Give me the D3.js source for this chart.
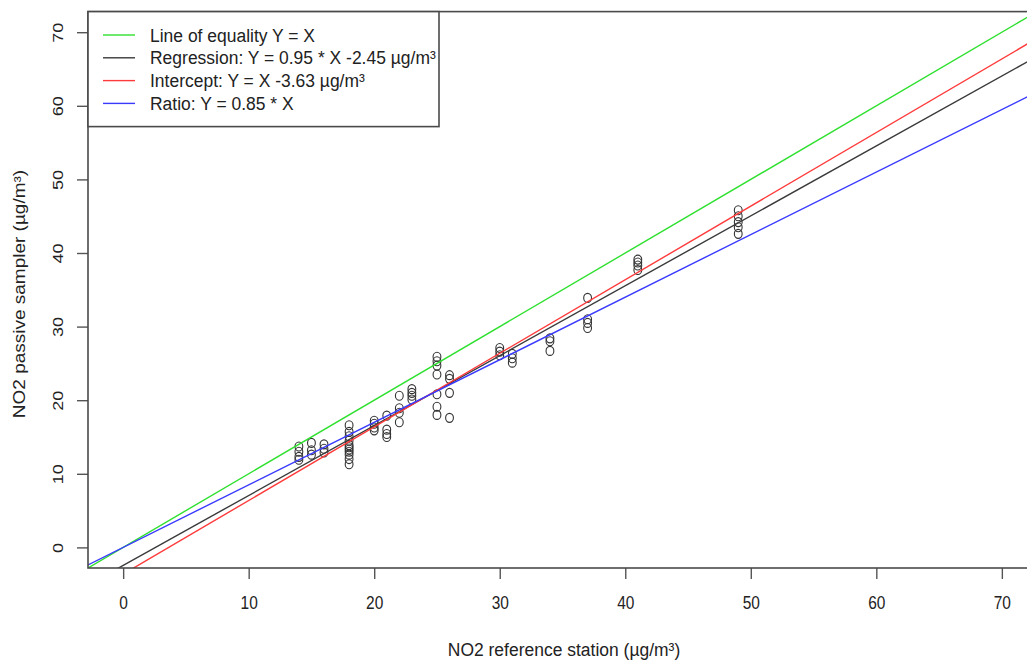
<!DOCTYPE html>
<html>
<head>
<meta charset="utf-8">
<script src="https://cdn.jsdelivr.net/npm/d3@7"></script>
<style>
  html, body { margin: 0; padding: 0; background: #fff; }
  svg { display: block; font-family: "Liberation Sans", Arial, sans-serif; }
</style>
</head>
<body>
<svg id="chart" width="1027" height="664"></svg>
<script>
// --- data ---
const stationX = [
  14, 14, 14, 14,
  15, 15, 15,
  16, 16, 16,
  18, 18, 18, 18, 18, 18, 18, 18, 18, 18, 18,
  20, 20, 20, 20,
  21, 21, 21, 21,
  22, 22, 22, 22,
  23, 23, 23, 23,
  25, 25, 25, 25, 25, 25, 25,
  26, 26, 26, 26,
  30, 30, 30,
  31, 31, 31,
  34, 34, 34,
  37, 37, 37, 37,
  41, 41, 41, 41,
  49, 49, 49, 49, 49
];
const samplerY = [
  13.7, 13.0, 12.3, 11.9,
  14.2, 13.2, 12.6,
  14.0, 13.4, 12.9,
  16.6, 15.7, 15.1, 14.5, 13.9, 13.6, 13.3, 13.0, 12.6, 12.0, 11.3,
  17.2, 16.8, 16.3, 15.9,
  17.9, 16.0, 15.4, 15.0,
  20.6, 18.9, 18.3, 17.0,
  21.5, 21.0, 20.6, 20.1,
  25.9, 25.3, 24.7, 23.5, 20.8, 19.1, 18.0,
  23.4, 22.9, 21.0, 17.6,
  27.1, 26.6, 26.1,
  26.3, 25.7, 25.1,
  28.4, 28.0, 26.7,
  33.9, 31.0, 30.5, 29.8,
  39.1, 38.7, 38.3, 37.7,
  45.8, 45.0, 44.2, 43.5, 42.6
];
const tickValues = [0, 10, 20, 30, 40, 50, 60, 70];

// fitted lines: y = slope * x + intercept
const lineNames = [
  "Line of equality Y = X",
  "Regression: Y = 0.95 * X -2.45 \u00b5g/m\u00b3",
  "Intercept: Y = X -3.63 \u00b5g/m\u00b3",
  "Ratio: Y = 0.85 * X"
];
const lineSlopes = [1, 0.95, 1, 0.85];
const lineIntercepts = [0, -2.45, -3.63, 0];
const lineColors = ["#2fe02f", "#3a3a3a", "#ff3a3a", "#3a3aff"];

const svg = d3.select("#chart");
const SX = 0.86;  // horizontal squeeze of the source picture (tick labels)
const SXT = 0.92; // same for titles and legend

const x = d3.scaleLinear().domain([-2.8, 72.8]).range([88, 1037]);
const y = d3.scaleLinear().domain([-2.8, 72.8]).range([568, 11.6]);

svg.append("defs").append("clipPath").attr("id", "plot-clip")
  .append("rect")
  .attr("x", x.range()[0]).attr("y", y.range()[1])
  .attr("width", x.range()[1] - x.range()[0])
  .attr("height", y.range()[0] - y.range()[1]);

// --- points ---
svg.append("g")
  .selectAll("ellipse")
  .data(stationX.map((v, i) => [v, samplerY[i]]))
  .join("ellipse")
  .attr("cx", d => x(d[0]))
  .attr("cy", d => y(d[1]))
  .attr("rx", 3.9)
  .attr("ry", 4.5)
  .attr("fill", "none")
  .attr("stroke", "#333")
  .attr("stroke-width", 1.1);

// --- ablines ---
const [x0, x1] = x.domain();
svg.append("g")
  .attr("clip-path", "url(#plot-clip)")
  .selectAll("line")
  .data(lineSlopes.map((s, i) => ({ s, b: lineIntercepts[i], c: lineColors[i] })))
  .join("line")
  .attr("x1", x(x0)).attr("y1", d => y(d.s * x0 + d.b))
  .attr("x2", x(x1)).attr("y2", d => y(d.s * x1 + d.b))
  .attr("stroke", d => d.c)
  .attr("stroke-width", 1.4);

// --- axes ---
const gx = svg.append("g")
  .attr("transform", `translate(0,${y.range()[0]})`)
  .call(d3.axisBottom(x).tickValues(tickValues).tickSize(11).tickSizeOuter(0));
gx.select(".domain").remove();
gx.selectAll(".tick line").attr("stroke", "#555").attr("stroke-width", 1.4);
gx.selectAll(".tick text")
  .attr("y", 28.5)
  .attr("transform", `scale(${SX},1)`)
  .attr("fill", "#222")
  .style("font-size", "18px")
  .style("font-family", "Liberation Sans, Arial, sans-serif");

const gy = svg.append("g")
  .attr("transform", `translate(${x.range()[0]},0)`)
  .call(d3.axisLeft(y).tickValues(tickValues).tickSize(11).tickSizeOuter(0));
gy.select(".domain").remove();
gy.selectAll(".tick line").attr("stroke", "#555").attr("stroke-width", 1.4);
gy.selectAll(".tick text")
  .attr("x", 0).attr("dy", 0)
  .attr("text-anchor", "middle")
  .attr("transform", `translate(-25,0) scale(${SX},1) rotate(-90)`)
  .attr("fill", "#222")
  .style("font-size", "18px")
  .style("font-family", "Liberation Sans, Arial, sans-serif");

// --- frame ---
svg.append("rect")
  .attr("x", x.range()[0]).attr("y", y.range()[1])
  .attr("width", x.range()[1] - x.range()[0])
  .attr("height", y.range()[0] - y.range()[1])
  .attr("fill", "none")
  .attr("stroke", "#4a4a4a")
  .attr("stroke-width", 1.6);

// --- axis titles ---
svg.append("text")
  .attr("transform", `translate(564,656) scale(${SXT},1)`)
  .attr("text-anchor", "middle")
  .attr("fill", "#222")
  .style("font-size", "19px")
  .text("NO2 reference station (\u00b5g/m\u00b3)");

svg.append("text")
  .attr("transform", `translate(25,294) scale(${SX},1) rotate(-90)`)
  .attr("text-anchor", "middle")
  .attr("fill", "#222")
  .style("font-size", "19px")
  .text("NO2 passive sampler (\u00b5g/m\u00b3)");

// --- legend ---
const legend = svg.append("g");
legend.append("rect")
  .attr("x", 88).attr("y", 11.6)
  .attr("width", 351).attr("height", 115)
  .attr("fill", "#fff")
  .attr("stroke", "#4a4a4a")
  .attr("stroke-width", 1.6);

const rows = legend.selectAll("g.row")
  .data(lineNames)
  .join("g")
  .attr("class", "row")
  .attr("transform", (d, i) => `translate(0,${35 + i * 22.8})`);
rows.append("line")
  .attr("x1", 103).attr("x2", 135)
  .attr("stroke", (d, i) => lineColors[i])
  .attr("stroke-width", 1.4);
rows.append("text")
  .attr("transform", `translate(150,6.5) scale(${SXT},1)`)
  .attr("fill", "#222")
  .style("font-size", "19px")
  .text(d => d);
</script>
</body>
</html>
